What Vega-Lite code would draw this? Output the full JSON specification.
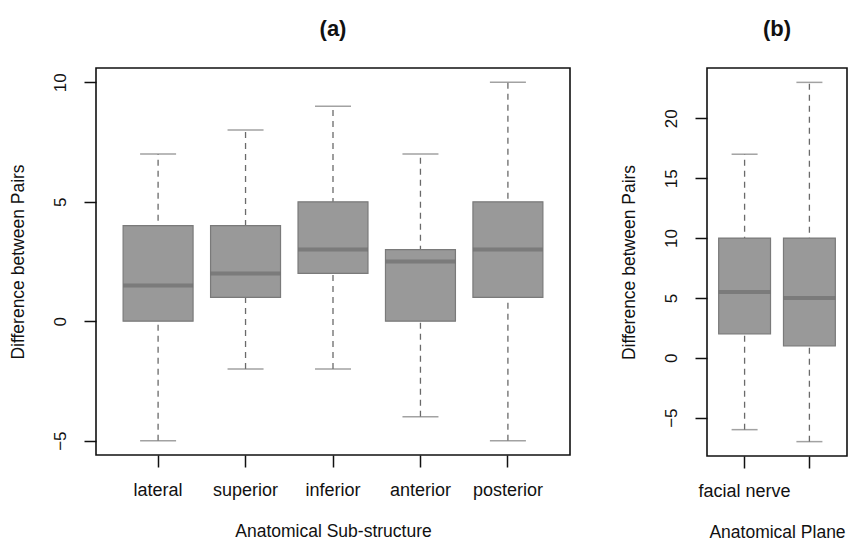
{
  "$schema": "https://vega.github.io/schema/vega-lite/v6.json",
  "padding": {"left": 8, "top": 17, "right": 0, "bottom": 0},
  "background": "white",
  "datasets": {
    "a": [
      {"group": "lateral", "lo": -5, "q1": 0, "median": 1.5, "q3": 4, "hi": 7},
      {"group": "superior", "lo": -2, "q1": 1, "median": 2, "q3": 4, "hi": 8},
      {"group": "inferior", "lo": -2, "q1": 2, "median": 3, "q3": 5, "hi": 9},
      {"group": "anterior", "lo": -4, "q1": 0, "median": 2.5, "q3": 3, "hi": 7},
      {"group": "posterior", "lo": -5, "q1": 1, "median": 3, "q3": 5, "hi": 10}
    ],
    "b": [
      {"group": "facial nerve", "lo": -6, "q1": 2, "median": 5.5, "q3": 10, "hi": 17},
      {"group": "second plane", "lo": -7, "q1": 1, "median": 5, "q3": 10, "hi": 23}
    ]
  },
  "hconcat": [
    {
      "width": 474,
      "height": 387,
      "title": {"text": "(a)", "frame": "group", "offset": 27},
      "data": {"name": "a"},
      "encoding": {
        "x": {
          "field": "group", "type": "nominal",
          "sort": ["lateral", "superior", "inferior", "anterior", "posterior"],
          "scale": {"type": "band", "paddingInner": 0.2, "paddingOuter": 0.31},
          "axis": {"title": "Anatomical Sub-structure", "labelAngle": 0}
        }
      },
      "layer": [
        {
          "mark": {"type": "rule", "strokeDash": [6, 5], "color": "#6a6a6a", "strokeWidth": 1.3},
          "encoding": {
            "y": {"field": "lo", "type": "quantitative",
              "scale": {"domain": [-5.6, 10.6], "nice": false, "zero": false},
              "axis": {"title": "Difference between Pairs", "values": [-5, 0, 5, 10]}},
            "y2": {"field": "hi"}
          }
        },
        {
          "mark": {"type": "bar", "fill": "#999999", "stroke": "#7a7a7a", "strokeWidth": 1.2},
          "encoding": {"y": {"field": "q1", "type": "quantitative"}, "y2": {"field": "q3"}}
        },
        {
          "mark": {"type": "tick", "color": "#6e6e6e", "thickness": 4, "size": 70},
          "encoding": {"y": {"field": "median", "type": "quantitative"}}
        },
        {
          "mark": {"type": "tick", "color": "#7a7a7a", "thickness": 1.5, "size": 36},
          "encoding": {"y": {"field": "lo", "type": "quantitative"}}
        },
        {
          "mark": {"type": "tick", "color": "#7a7a7a", "thickness": 1.5, "size": 36},
          "encoding": {"y": {"field": "hi", "type": "quantitative"}}
        }
      ]
    },
    {
      "width": 140,
      "height": 388,
      "title": {"text": "(b)", "frame": "group", "offset": 27},
      "data": {"name": "b"},
      "encoding": {
        "x": {
          "field": "group", "type": "nominal",
          "sort": ["facial nerve", "second plane"],
          "scale": {"type": "band", "paddingInner": 0.2, "paddingOuter": 0.18},
          "axis": {"title": "Anatomical Plane", "labelAngle": 0,
            "labelExpr": "datum.value == 'facial nerve' ? datum.value : ''"}
        }
      },
      "layer": [
        {
          "mark": {"type": "rule", "strokeDash": [6, 5], "color": "#6a6a6a", "strokeWidth": 1.3},
          "encoding": {
            "y": {"field": "lo", "type": "quantitative",
              "scale": {"domain": [-8.2, 24.2], "nice": false, "zero": false},
              "axis": {"title": "Difference between Pairs", "values": [-5, 0, 5, 10, 15, 20]}},
            "y2": {"field": "hi"}
          }
        },
        {
          "mark": {"type": "bar", "fill": "#999999", "stroke": "#7a7a7a", "strokeWidth": 1.2},
          "encoding": {"y": {"field": "q1", "type": "quantitative"}, "y2": {"field": "q3"}}
        },
        {
          "mark": {"type": "tick", "color": "#6e6e6e", "thickness": 4, "size": 52},
          "encoding": {"y": {"field": "median", "type": "quantitative"}}
        },
        {
          "mark": {"type": "tick", "color": "#7a7a7a", "thickness": 1.5, "size": 26},
          "encoding": {"y": {"field": "lo", "type": "quantitative"}}
        },
        {
          "mark": {"type": "tick", "color": "#7a7a7a", "thickness": 1.5, "size": 26},
          "encoding": {"y": {"field": "hi", "type": "quantitative"}}
        }
      ]
    }
  ],
  "spacing": 48,
  "config": {
    "font": "Liberation Sans",
    "view": {"stroke": "#111111", "strokeWidth": 1.6},
    "title": {"fontSize": 22, "fontWeight": "bold", "color": "#111111", "anchor": "middle"},
    "axis": {
      "domain": false, "grid": false,
      "tickColor": "#111111", "tickWidth": 1.5, "tickSize": 12,
      "labelColor": "#111111", "labelFontSize": 17, "labelPadding": 12,
      "titleColor": "#111111", "titleFontSize": 17.5, "titleFontWeight": "normal"
    },
    "axisY": {"labelAngle": -90, "labelAlign": "center", "labelBaseline": "bottom", "labelPadding": 15, "titlePadding": 24},
    "axisX": {"labelFontSize": 18, "labelPadding": 14, "titlePadding": 23}
  }
}
